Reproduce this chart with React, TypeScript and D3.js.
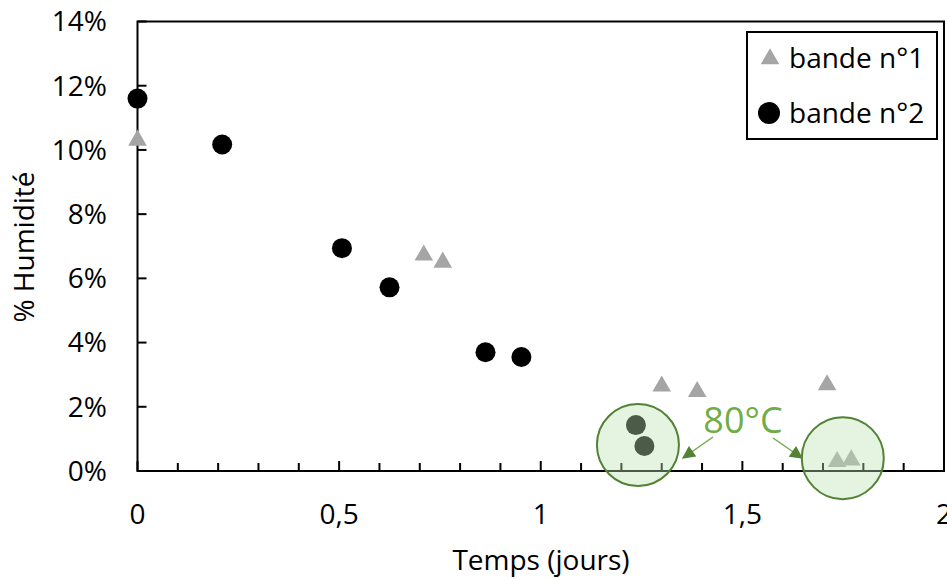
import React from "react";
import * as d3 from "d3";

const W = 947;
const H = 579;

// bande n°1 (triangles)
const band1Time = [0, 0.71, 0.757, 1.3, 1.388, 1.71, 1.735, 1.77];
const band1Hum = [0.103, 0.0672, 0.065, 0.0264, 0.0247, 0.0268, 0.0029, 0.0034];
// bande n°2 (circles)
const band2Time = [0, 0.21, 0.507, 0.625, 0.863, 0.952, 1.236, 1.257];
const band2Hum = [0.116, 0.1017, 0.0694, 0.0572, 0.037, 0.0355, 0.0143, 0.0078];

const xTicks = [0, 0.5, 1, 1.5, 2];
const xTickLabels = ["0", "0,5", "1", "1,5", "2"];
const xMinorTicks = d3.range(1, 20).map((i) => i / 10).filter((v) => Math.abs(v * 2 - Math.round(v * 2)) > 1e-6);
const yTicks = [0, 0.02, 0.04, 0.06, 0.08, 0.1, 0.12, 0.14];
const yTickLabels = ["0%", "2%", "4%", "6%", "8%", "10%", "12%", "14%"];

// 80°C highlight circles (centers in data coords)
const hlTime = [1.241, 1.749];
const hlHum = [0.0081, 0.004];

const FONT = "'Open Sans', sans-serif";

export default function App() {
  const x = d3.scaleLinear().domain([0, 2]).range([137.5, 944]);
  const y = d3.scaleLinear().domain([0, 0.14]).range([471, 21.5]);
  const tri = d3.symbol().type(d3.symbolTriangle).size(150)()!;
  const triLeg = d3.symbol().type(d3.symbolTriangle).size(150)()!;
  const green = "#70AD47";
  const dgreen = "#548235";

  const arrows = [
    { x1: 713, y1: 437, x2: 683, y2: 458 },
    { x1: 773, y1: 438, x2: 802, y2: 458 },
  ];

  return (
    <svg width={W} height={H} style={{ position: "absolute", left: 0, top: 0, background: "#fff" }} fontFamily={FONT}>
      <defs>
        <marker id="ah" viewBox="0 0 10 10" refX="9" refY="5" markerWidth="15" markerHeight="13" orient="auto-start-reverse" markerUnits="userSpaceOnUse">
          <path d="M0,0 L10,5 L0,10 z" fill={dgreen} />
        </marker>
      </defs>
      {/* plot frame */}
      <rect x={x(0)} y={y(0.14)} width={x(2) - x(0)} height={y(0) - y(0.14)} fill="none" stroke="#000" strokeWidth={2} />
      {/* y ticks */}
      {yTicks.map((t, i) => (
        <g key={"yt" + i}>
          <line x1={x(0)} x2={x(0) + 9} y1={y(t)} y2={y(t)} stroke="#000" strokeWidth={2} />
          <text x={107} y={y(t)} dy="0.35em" textAnchor="end" fontSize={28} fill="#000">
            {yTickLabels[i]}
          </text>
        </g>
      ))}
      {/* x ticks */}
      {xTicks.map((t, i) => (
        <g key={"xt" + i}>
          <line x1={x(t)} x2={x(t)} y1={y(0)} y2={y(0) - 10} stroke="#000" strokeWidth={2} />
          <text x={x(t)} y={524} textAnchor="middle" fontSize={28} fill="#000">
            {xTickLabels[i]}
          </text>
        </g>
      ))}
      {xMinorTicks.map((t, i) => (
        <line key={"xm" + i} x1={x(t)} x2={x(t)} y1={y(0)} y2={y(0) - 8} stroke="#000" strokeWidth={2} />
      ))}
      {/* axis titles */}
      <text x={541} y={570} textAnchor="middle" fontSize={28} fill="#000">
        Temps (jours)
      </text>
      <text transform={`translate(34,247) rotate(-90)`} textAnchor="middle" fontSize={28} fill="#000">
        % Humidité
      </text>
      {/* data */}
      {band1Time.map((t, i) => (
        <path key={"b1" + i} d={tri} transform={`translate(${x(t)},${y(band1Hum[i])})`} fill="#A5A5A5" />
      ))}
      {band2Time.map((t, i) => (
        <circle key={"b2" + i} cx={x(t)} cy={y(band2Hum[i])} r={10} fill="#000" />
      ))}
      {/* highlight circles */}
      {hlTime.map((t, i) => (
        <g key={"hl" + i}>
          <circle cx={x(t)} cy={y(hlHum[i])} r={42} fill="rgb(190,225,180)" fillOpacity={0.4} stroke="none" />
          <circle cx={x(t)} cy={y(hlHum[i])} r={41} fill="none" stroke={dgreen} strokeWidth={2} />
        </g>
      ))}
      {arrows.map((a, i) => (
        <line key={"ar" + i} x1={a.x1} y1={a.y1} x2={a.x2} y2={a.y2} stroke={green} strokeWidth={1.5} markerEnd="url(#ah)" />
      ))}
      <text x={743} y={433} textAnchor="middle" fontSize={36} fill={green}>
        80°C
      </text>
      {/* legend */}
      <rect x={747} y={32} width={190} height={107} fill="#fff" stroke="#000" strokeWidth={2} />
      <path d={triLeg} transform="translate(770,59)" fill="#A5A5A5" />
      <text x={789} y={58} dy="0.35em" fontSize={28} fill="#000">
        bande n°1
      </text>
      <circle cx={769} cy={113} r={11} fill="#000" />
      <text x={789} y={113} dy="0.35em" fontSize={28} fill="#000">
        bande n°2
      </text>
    </svg>
  );
}
